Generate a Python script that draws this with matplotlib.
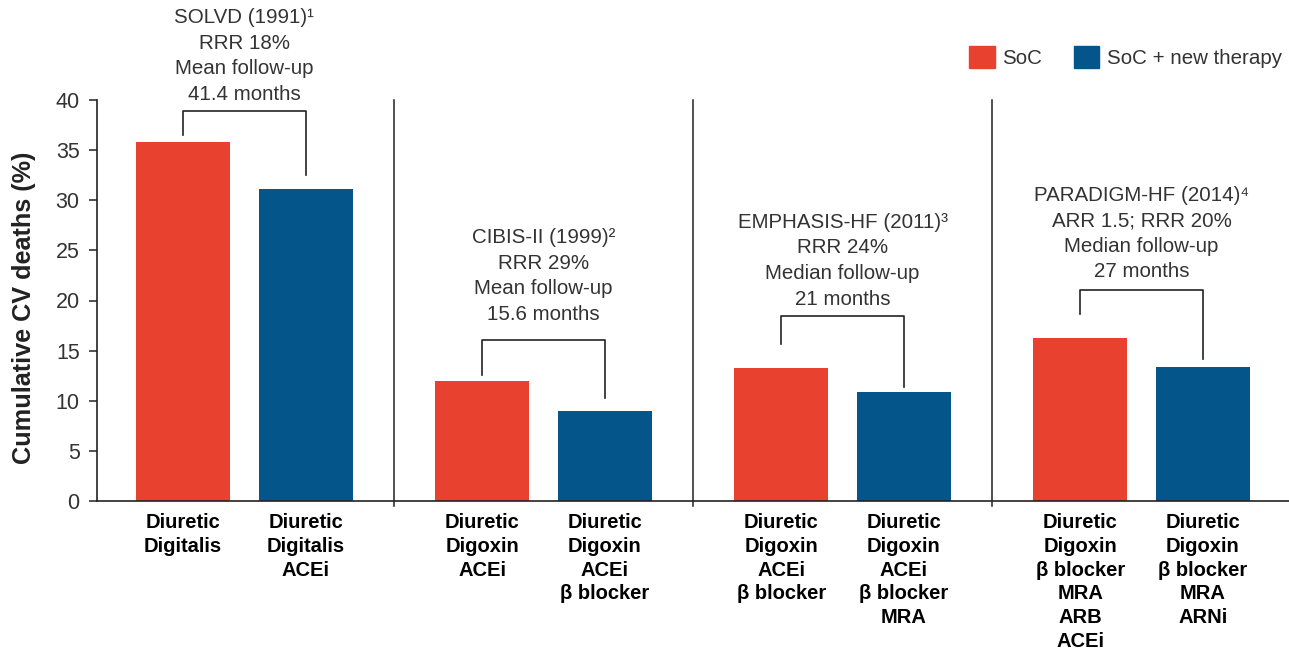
# -*- coding: utf-8 -*-

import numpy as np
import matplotlib
matplotlib.use('Agg')
import matplotlib.pyplot as plt
from matplotlib.patches import Patch

plt.rcParams['font.family'] = ['Liberation Sans', 'DejaVu Sans']

# data
trials = ['SOLVD (1991)\u00b9\nRRR 18%\nMean follow-up\n41.4 months',
          'CIBIS-II (1999)\u00b2\nRRR 29%\nMean follow-up\n15.6 months',
          'EMPHASIS-HF (2011)\u00b3\nRRR 24%\nMedian follow-up\n21 months',
          'PARADIGM-HF (2014)\u2074\nARR 1.5; RRR 20%\nMedian follow-up\n27 months']
soc = [35.8, 12.0, 13.3, 16.3]
soc_new = [31.1, 9.0, 10.9, 13.4]
soc_labels = ['Diuretic\nDigitalis',
              'Diuretic\nDigoxin\nACEi',
              'Diuretic\nDigoxin\nACEi\n\u03b2 blocker',
              'Diuretic\nDigoxin\n\u03b2 blocker\nMRA\nARB\nACEi']
new_labels = ['Diuretic\nDigitalis\nACEi',
              'Diuretic\nDigoxin\nACEi\n\u03b2 blocker',
              'Diuretic\nDigoxin\nACEi\n\u03b2 blocker\nMRA',
              'Diuretic\nDigoxin\n\u03b2 blocker\nMRA\nARNi']

# layout of the brackets / annotation text (y in data units)
bracket_top = [38.9, 16.05, 18.5, 21.0]
gap_left = [0.7, 0.55, 2.35, 2.4]
gap_right = [1.4, 1.25, 0.45, 0.75]
text_bottom = [39.6, 17.65, 19.2, 21.9]

red = '#E8412F'
blue = '#03558A'
txt_gray = '#333333'

fig = plt.figure(figsize=(12.89, 6.53), dpi=100)
ax = fig.add_axes([97/1289, 1 - 501/653, 1 - 97/1289, 401/653])

g = np.arange(len(soc))
off = 0.205
w = 0.315
ax.bar(g - off, soc, width=w, color=red, label='SoC')
ax.bar(g + off, soc_new, width=w, color=blue, label='SoC + new therapy')

for i in range(len(soc)):
    xl, xr = g[i] - off, g[i] + off
    ax.plot([xl, xl, xr, xr],
            [soc[i] + gap_left[i], bracket_top[i], bracket_top[i], soc_new[i] + gap_right[i]],
            color='#222222', lw=1.2, clip_on=False)
    ax.text(g[i], text_bottom[i], trials[i], ha='center', va='bottom',
            fontsize=14.8, color=txt_gray, linespacing=1.44)
    if i < len(soc) - 1:
        ax.plot([g[i] + 0.5, g[i] + 0.5], [-0.5, 40], color='#222222', lw=1.1, clip_on=False)

ax.set_xlim(-0.493, 3.493)
ax.set_ylim(0, 40)
ax.set_yticks(np.arange(0, 41, 5))
ax.tick_params(axis='y', direction='out', length=6, width=1.1, pad=6.5,
               labelsize=15.5, labelcolor=txt_gray, color='#222222')

xpos = np.concatenate([g - off, g + off])
xlab = soc_labels + new_labels
ax.set_xticks(xpos)
ax.set_xticklabels(xlab, fontsize=14.5, fontweight='bold', linespacing=1.31)
ax.tick_params(axis='x', length=0, pad=9)

ax.spines['top'].set_visible(False)
ax.spines['right'].set_visible(False)
for s in ['left', 'bottom']:
    ax.spines[s].set_color('#222222')
    ax.spines[s].set_linewidth(1.2)

ax.set_ylabel('Cumulative CV deaths (%)', fontsize=18.2, fontweight='bold',
              color='#222222', ha='center', va='center')
ax.yaxis.set_label_coords(-0.0612, 0.4825)

handles = [Patch(color=red, label='SoC'), Patch(color=blue, label='SoC + new therapy')]
fig.legend(handles=handles, loc='upper left', bbox_to_anchor=(969/1289, 1 - 46/653),
           ncol=2, frameon=False, fontsize=14.8, borderpad=0, borderaxespad=0,
           handlelength=1.25, handleheight=1.25, handletextpad=0.35, columnspacing=1.55,
           labelcolor=txt_gray)

fig.savefig('out.png', dpi=100)
